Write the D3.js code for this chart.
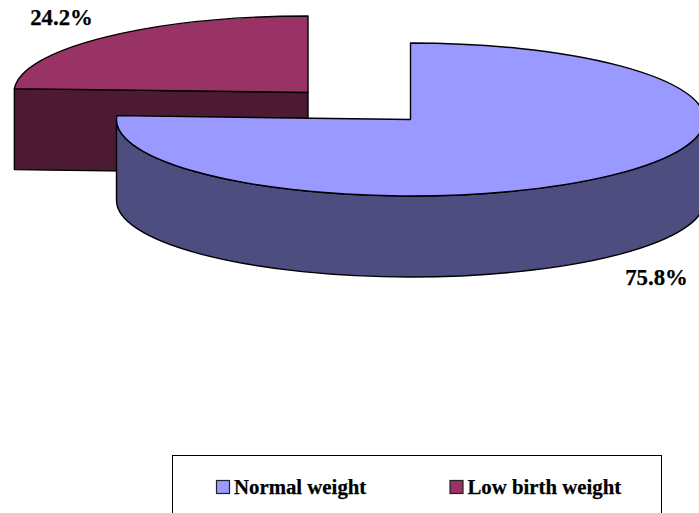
<!DOCTYPE html>
<html>
<head>
<meta charset="utf-8">
<script src="https://cdn.jsdelivr.net/npm/d3@7"></script>
<style>
html,body{margin:0;padding:0;background:#fff;overflow:hidden}
text{font-family:"Liberation Serif",serif;font-weight:bold;fill:#000;stroke:#000;stroke-width:0.25px}
</style>
</head>
<body>
<svg id="chart" width="699" height="513"></svg>
<script>
const categories = ["Normal weight", "Low birth weight"];
const values = [75.8, 24.2];
const valueLabels = ["75.8%", "24.2%"];
const topColors = ["#9999ff", "#993366"];
const sideColors = ["#4d4d80", "#4d1a33"];

const svg = d3.select("#chart");
const rx = 294, ry = 76.5, depth = 81;
const centers = [[410.5, 119.5], [308, 92.5]];
const labelPos = [[656.5, 285], [61.5, 25]];

const slices = d3.pie().sort(null).value(d => d)(values);

// Map a pie angle (clockwise from 12 o'clock) onto the tilted ellipse.
const project = (c, a, dy = 0) => [c[0] + rx * Math.sin(a), c[1] - ry * Math.cos(a) + dy];
const pt = p => p[0].toFixed(2) + "," + p[1].toFixed(2);

function arcTo(c, a0, a1, dy, sweep) {
  const large = Math.abs(a1 - a0) > Math.PI ? 1 : 0;
  return `A${rx},${ry} 0 ${large} ${sweep} ${pt(project(c, a1, dy))}`;
}

// Low birth weight goes first so the larger slice overlaps it.
[1, 0].forEach(i => {
  const s = slices[i], c = centers[i];
  const g = svg.append("g");
  let wall;
  if (i === 0) {
    // Curved outer wall, from the right extreme round the front to the left extreme.
    const a0 = Math.PI / 2, a1 = Math.PI * 1.5;
    wall = `M${pt(project(c, a0))}` + arcTo(c, a0, a1, 0, 1) +
           `L${pt(project(c, a1, depth))}` + arcTo(c, a1, a0, depth, 0) + "Z";
  } else {
    // Flat cut face running from the rim back to the centre.
    const a = s.startAngle;
    wall = `M${pt(project(c, a))}L${pt(c)}L${pt([c[0], c[1] + depth])}L${pt(project(c, a, depth))}Z`;
  }
  g.append("path").attr("d", wall)
    .attr("fill", sideColors[i]).attr("stroke", "#000").attr("stroke-width", 1.4).attr("stroke-linejoin", "round");
  const top = `M${pt(c)}L${pt(project(c, s.startAngle))}` + arcTo(c, s.startAngle, s.endAngle, 0, 1) + "Z";
  g.append("path").attr("d", top)
    .attr("fill", topColors[i]).attr("stroke", "#000").attr("stroke-width", 1.4).attr("stroke-linejoin", "round");
});

svg.selectAll("text.value").data(valueLabels).join("text")
  .attr("class", "value")
  .attr("x", (d, i) => labelPos[i][0])
  .attr("y", (d, i) => labelPos[i][1])
  .attr("text-anchor", "middle")
  .attr("font-size", 22.8)
  .text(d => d);

// Legend frame runs off the bottom edge of the page.
svg.append("rect").attr("x", 172.5).attr("y", 455.5).attr("width", 489).attr("height", 70)
  .attr("fill", "#fff").attr("stroke", "#000").attr("stroke-width", 1);

const legendX = [216, 449.5];
const legend = svg.selectAll("g.legend").data(categories).join("g")
  .attr("class", "legend")
  .attr("transform", (d, i) => `translate(${legendX[i]},480)`);
legend.append("rect").attr("x", 0.5).attr("y", 0.5).attr("width", 13).attr("height", 13)
  .attr("fill", (d, i) => topColors[i]).attr("stroke", "#222").attr("stroke-width", 1.2);
legend.append("text").attr("x", 18).attr("y", 14).attr("font-size", 20.8).text(d => d);
</script>
</body>
</html>
